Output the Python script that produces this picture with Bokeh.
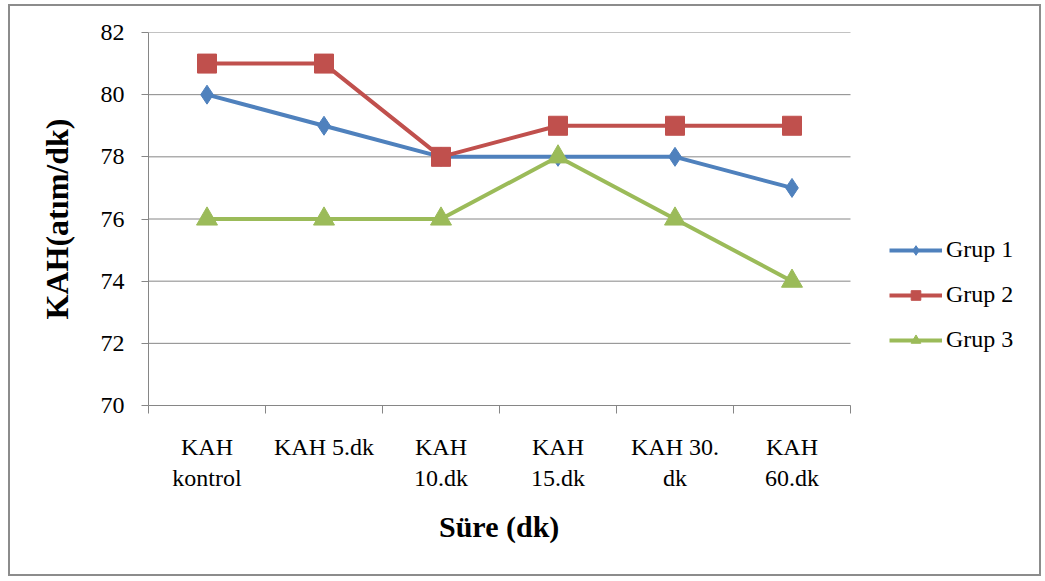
from bokeh.embed import file_html
from bokeh.models import FixedTicker, Legend, LegendItem, Range1d, Title
from bokeh.plotting import figure
from bokeh.resources import INLINE

# Measurement times (x categories) and heart rate per group
categories = ["KAH\nkontrol", "KAH 5.dk", "KAH\n10.dk", "KAH\n15.dk", "KAH 30.\ndk", "KAH\n60.dk"]
grup1 = [80, 79, 78, 78, 78, 77]
grup2 = [81, 81, 78, 79, 79, 79]
grup3 = [76, 76, 76, 78, 76, 74]
y_ticks = [70, 72, 74, 76, 78, 80, 82]

BLUE = "#4F81BD"
RED = "#C0504D"
GREEN = "#9BBB59"
GRID = "#868686"
SERIF = "Liberation Serif"

n = len(categories)
xs = [i + 0.5 for i in range(n)]

# The frame also holds the legend on its right; the plotting area proper
# covers x in [0, n] (702 px of the 895 px frame).
PLOT_W, FRAME_W = 702, 895
x_end = n * FRAME_W / PLOT_W

p = figure(
    width=1033, height=572,
    output_backend="svg", toolbar_location=None,
    x_range=Range1d(0, x_end), y_range=Range1d(70, 82),
    min_border_left=138, min_border_right=0,
    min_border_top=26, min_border_bottom=173,
    outline_line_color=None, background_fill_color="white",
    border_fill_color="white",
)
# Chart-area border
p.margin = (4, 0, 0, 8)
p.styles = {"border": "2px solid #8c8c8c"}

# Horizontal gridlines limited to the plotting area
p.xgrid.grid_line_color = None
p.ygrid.grid_line_color = None
p.segment(x0=[0] * len(y_ticks), x1=[n] * len(y_ticks), y0=y_ticks, y1=y_ticks,
          line_color=GRID, line_width=1)

# x axis: labels centred on categories, tick marks between categories
xa = p.xaxis[0]
xa.bounds = (0, n)
xa.ticker = FixedTicker(ticks=xs, minor_ticks=list(range(n + 1)))
xa.major_label_overrides = {x: c for x, c in zip(xs, categories)}
xa.major_tick_out = 0
xa.major_tick_in = 0
xa.minor_tick_out = 8
xa.minor_tick_in = 0
xa.minor_tick_line_color = GRID
xa.axis_line_color = GRID
xa.major_label_standoff = 20
xa.major_label_text_font = SERIF
xa.major_label_text_font_size = "24px"
xa.major_label_text_color = "black"

# x-axis title, centred under the plotting area (not the whole frame)
x_title_text = "Süre (dk)"
x_title_px = 121
p.add_layout(Title(text=x_title_text, align="left",
                   offset=PLOT_W / 2 - x_title_px / 2,
                   text_font=SERIF, text_font_style="bold",
                   text_font_size="30px", text_color="black",
                   standoff=28), "below")

ya = p.yaxis[0]
ya.ticker = FixedTicker(ticks=y_ticks)
ya.minor_tick_line_color = None
ya.major_tick_out = 7
ya.major_tick_in = 0
ya.major_tick_line_color = GRID
ya.axis_line_color = GRID
ya.major_label_standoff = 17
ya.major_label_text_font = SERIF
ya.major_label_text_font_size = "24px"
ya.major_label_text_color = "black"
ya.axis_label = "KAH(atım/dk)"
ya.axis_label_text_font = SERIF
ya.axis_label_text_font_style = "bold"
ya.axis_label_text_font_size = "32px"
ya.axis_label_text_color = "black"
ya.axis_label_standoff = 23

items = []
for name, vals, color, marker, size in [
    ("Grup 1", grup1, BLUE, "diamond", 19),
    ("Grup 2", grup2, RED, "square", 19),
    ("Grup 3", grup3, GREEN, "triangle", 21),
]:
    ln = p.line(xs, vals, line_color=color, line_width=4)
    sc = p.scatter(xs, vals, marker=marker, size=size,
                   fill_color=color, line_color=color)
    items.append(LegendItem(label=name, renderers=[ln, sc]))

legend = Legend(items=items, location=(741, 52),
                border_line_color=None, background_fill_alpha=0,
                label_text_font=SERIF, label_text_font_size="24px",
                label_text_color="black",
                glyph_width=53, glyph_height=24, label_height=24,
                label_standoff=4, spacing=18, padding=0, margin=0)
p.add_layout(legend, "center")

open("out.html", "w").write(file_html(p, INLINE))
